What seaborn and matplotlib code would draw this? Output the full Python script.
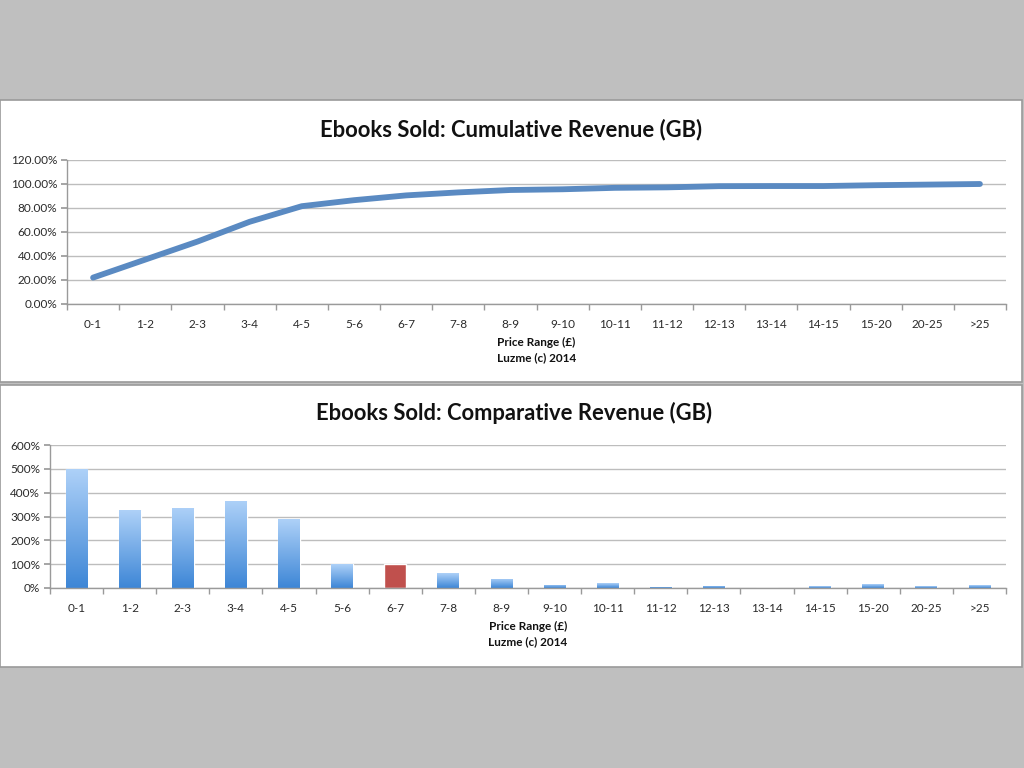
import numpy as np
import pandas as pd
import matplotlib
matplotlib.use("Agg")
import matplotlib.pyplot as plt
from matplotlib.patches import Rectangle
from matplotlib.ticker import FuncFormatter, MultipleLocator
from matplotlib.colors import LinearSegmentedColormap
import seaborn as sns

categories = ["0-1", "1-2", "2-3", "3-4", "4-5", "5-6", "6-7", "7-8", "8-9", "9-10",
              "10-11", "11-12", "12-13", "13-14", "14-15", "15-20", "20-25", ">25"]
cumulative = [22.0, 37.0, 52.0, 68.5, 81.5, 86.5, 90.5, 93.0, 95.0, 95.6,
              96.8, 97.2, 98.2, 98.3, 98.3, 99.0, 99.5, 100.0]
comparative = [498, 327, 337, 367, 288, 100, 100, 61, 39, 13,
               19, 6, 10, 1, 7, 15, 8, 11]
highlight = "6-7"

title_top = "Ebooks Sold: Cumulative Revenue (GB)"
title_bottom = "Ebooks Sold: Comparative Revenue (GB)"
xlabel = "Price Range (£)\nLuzme (c) 2014"

sns.set_theme(style="white")
plt.rcParams['font.family'] = ['Lato', 'DejaVu Sans']

fig = plt.figure(figsize=(10.24, 7.68), dpi=100)
fig.patch.set_facecolor("#bfbfbf")

W, H = 1024, 768
def frac_rect(x0, y0, x1, y1):
    return [x0 / W, 1 - y1 / H, (x1 - x0) / W, (y1 - y0) / H]

# white panels (behind axes)
for (y0, y1) in [(100, 382), (385, 667)]:
    r = Rectangle((0 / W, 1 - y1 / H), 1022 / W, (y1 - y0) / H,
                  transform=fig.transFigure, facecolor="white",
                  edgecolor="#9a9a9a", linewidth=1.2, zorder=-10)
    fig.patches.append(r)

grid_c = "#bdbdbd"
tick_c = "#2a2a2a"

def style_axes(ax):
    ax.set_facecolor("none")
    ax.set_zorder(1)
    for s in ["top", "right"]:
        ax.spines[s].set_visible(False)
    for s in ["left", "bottom"]:
        ax.spines[s].set_color("#9a9a9a")
        ax.spines[s].set_linewidth(1.0)
    ax.yaxis.grid(True, color=grid_c, linewidth=1.0)
    ax.set_axisbelow(True)
    ax.set_xlim(-0.5, len(categories) - 0.5)
    ax.set_xticks(np.arange(len(categories)))
    ax.set_xticklabels(categories, fontsize=8.5, color=tick_c)
    ax.set_xticks(np.arange(len(categories) + 1) - 0.5, minor=True)
    ax.tick_params(axis="x", which="major", length=0, pad=11)
    ax.tick_params(axis="x", which="minor", length=4, color="#9a9a9a", direction="out", bottom=True)
    ax.tick_params(axis="y", length=4, color="#9a9a9a", direction="out", left=True,
                   labelsize=8.5, labelcolor=tick_c, pad=3)
    ax.set_xlabel(xlabel, fontsize=8.5, fontweight="bold", color="#111111", labelpad=5,
                  linespacing=1.45)
    ax.set_ylabel("")

# ---- top: cumulative line ----
ax1 = fig.add_axes(frac_rect(67, 160, 1006, 304))
df1 = pd.DataFrame({"pos": np.arange(len(categories)), "value": cumulative})
sns.lineplot(data=df1, x="pos", y="value", ax=ax1, color="#5a8ac2", linewidth=4.2,
             solid_capstyle="round")
ax1.set_ylim(0, 120)
ax1.yaxis.set_major_locator(MultipleLocator(20))
ax1.yaxis.set_major_formatter(FuncFormatter(lambda v, p: f"{v:.2f}%"))
style_axes(ax1)
fig.text(511 / W, 1 - 130 / H, title_top, ha="center", va="center",
         fontsize=15.8, fontweight="bold", color="#111111")

# ---- bottom: comparative bars ----
ax2 = fig.add_axes(frac_rect(50, 445, 1006, 588))
df2 = pd.DataFrame({"cat": categories, "value": comparative})
palette = {c: ("#c0504d" if c == highlight else "#5b9be0") for c in categories}
sns.barplot(data=df2, x="cat", y="value", hue="cat", palette=palette, legend=False,
            width=0.41, ax=ax2, saturation=1, order=categories)

# per-bar vertical gradient fill for blue bars
grad = np.linspace(0, 1, 256).reshape(-1, 1)
cmap = LinearSegmentedColormap.from_list("bg", ["#3d86d6", "#aed1f8"])
for patch, cat in zip(ax2.patches, categories):
    if cat == highlight:
        continue
    x0, y0 = patch.get_x(), patch.get_y()
    w, h = patch.get_width(), patch.get_height()
    if h <= 0:
        continue
    im = ax2.imshow(grad, extent=(x0, x0 + w, y0, y0 + h), origin="lower", cmap=cmap,
                    aspect="auto", zorder=patch.get_zorder() + 0.1)
    im.set_clip_path(patch)
ax2.set_ylim(0, 600)
ax2.yaxis.set_major_locator(MultipleLocator(100))
ax2.yaxis.set_major_formatter(FuncFormatter(lambda v, p: f"{v:.0f}%"))
style_axes(ax2)
fig.text(514 / W, 1 - 413 / H, title_bottom, ha="center", va="center",
         fontsize=15.8, fontweight="bold", color="#111111")

fig.savefig("out.png", dpi=100, facecolor=fig.get_facecolor())
